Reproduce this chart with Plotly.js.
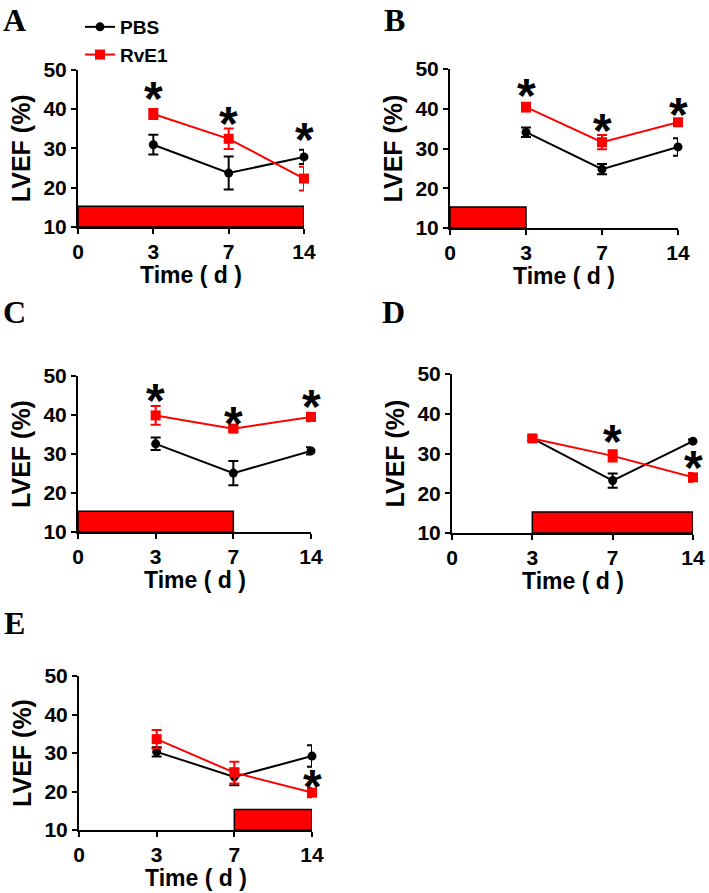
<!DOCTYPE html>
<html><head><meta charset="utf-8">
<script src="https://cdn.plot.ly/plotly-3.0.1.min.js"></script>
<style>html,body{margin:0;padding:0;background:#fff}</style>
</head><body><div id="chart" style="width:709px;height:893px"></div>
<script>
// ---- data ----
const tickDays = [0, 3, 7, 14];
const timeDays = [3, 7, 14];
const panelLabels = ['A', 'B', 'C', 'D', 'E'];

const pbsA = [30.9, 23.7, 27.8];  const pbsErrA = [2.5, 4.2, 1.8];
const rveA = [38.7, 32.4, 22.3];  const rveErrA = [1.3, 2.6, 3.0];
const pbsB = [34.1, 24.8, 30.4];  const pbsErrB = [1.2, 1.3, 2.2];
const rveB = [40.4, 31.6, 36.6];  const rveErrB = [1.1, 1.8, 0.6];
const pbsC = [32.6, 25.1, 30.8];  const pbsErrC = [1.6, 3.1, 0.9];
const rveC = [39.9, 36.5, 39.5];  const rveErrC = [2.4, 0.6, 1.1];
const pbsD = [33.8, 23.2, 33.1];  const pbsErrD = [0.5, 1.8, 0.4];
const rveD = [33.8, 29.4, 24.0];  const rveErrD = [0.5, 1.4, 1.1];
const pbsE = [30.3, 23.8, 29.2];  const pbsErrE = [1.2, 2.2, 2.8];
const rveE = [33.6, 24.9, 19.7];  const rveErrE = [2.4, 2.8, 1.2];

// RvE1 treatment period (days)
const treatA = [0, 14];
const treatB = [0, 3];
const treatC = [0, 7];
const treatD = [3, 14];
const treatE = [7, 14];
const treatLevel = 15.3;

// significance stars (day, y)
const starDaysA = [3, 7, 14];  const starYA = [44.3, 38.0, 34.0];
const starDaysB = [3, 7, 14];  const starYB = [45.0, 36.4, 40.4];
const starDaysC = [3, 7, 14];  const starYC = [45.4, 39.5, 44.1];
const starDaysD = [7, 14];     const starYD = [34.9, 28.2];
const starDaysE = [14];        const starYE = [23.0];

const xTitle = 'Time ( d )';
const yTitle = 'LVEF (%)';

// ---- build ----
const pos = d => tickDays.indexOf(d);
const panels = [
  {pbs: pbsA, pe: pbsErrA, rve: rveA, re: rveErrA, treat: treatA, sd: starDaysA, sy: starYA},
  {pbs: pbsB, pe: pbsErrB, rve: rveB, re: rveErrB, treat: treatB, sd: starDaysB, sy: starYB},
  {pbs: pbsC, pe: pbsErrC, rve: rveC, re: rveErrC, treat: treatC, sd: starDaysC, sy: starYC},
  {pbs: pbsD, pe: pbsErrD, rve: rveD, re: rveErrD, treat: treatD, sd: starDaysD, sy: starYD},
  {pbs: pbsE, pe: pbsErrE, rve: rveE, re: rveErrE, treat: treatE, sd: starDaysE, sy: starYE}
];
// pixel boxes: [left, right, bottom, top]
const W = 709, H = 893;
const boxes = [
  [78, 304, 227, 69.5],
  [450, 678, 228, 69],
  [78, 311, 532, 376],
  [452, 693, 533, 374],
  [79, 312, 830, 676]
];
const letterPos = [[15, 20], [394, 20], [15, 312], [393, 312], [15, 623]];

const FONT = 'Liberation Sans, Arial, sans-serif';
const RED = '#ff0000';
const traces = [], shapes = [], annotations = [];
const layout = {
  width: W, height: H,
  margin: {l: 0, r: 0, t: 0, b: 0},
  paper_bgcolor: '#fff', plot_bgcolor: 'rgba(0,0,0,0)',
  font: {family: FONT, color: '#000'},
  showlegend: true,
  legend: {x: 80 / W, y: 1 - 8 / H, xanchor: 'left', yanchor: 'top',
           font: {size: 19, weight: 'bold', family: FONT}, bgcolor: 'rgba(0,0,0,0)',
           tracegroupgap: 0, itemwidth: 30},
  shapes: shapes, annotations: annotations
};

panels.forEach((p, i) => {
  const n = i === 0 ? '' : String(i + 1);
  const xa = 'x' + n, ya = 'y' + n;
  const b = boxes[i];
  const xs = timeDays.map(pos);
  traces.push({
    x: xs, y: p.pbs, xaxis: xa, yaxis: ya, type: 'scatter', mode: 'lines+markers',
    name: 'PBS', showlegend: i === 0, cliponaxis: false,
    line: {color: '#000', width: 2}, marker: {symbol: 'circle', size: 9, color: '#000'},
    error_y: {type: 'data', array: p.pe, visible: true, color: '#000', thickness: 2, width: 5}
  });
  traces.push({
    x: xs, y: p.rve, xaxis: xa, yaxis: ya, type: 'scatter', mode: 'lines+markers',
    name: 'RvE1', showlegend: i === 0, cliponaxis: false,
    line: {color: RED, width: 2}, marker: {symbol: 'square', size: 10, color: RED},
    error_y: {type: 'data', array: p.re, visible: true, color: RED, thickness: 2, width: 5}
  });
  shapes.push({type: 'rect', xref: xa, yref: ya, layer: 'below',
    x0: pos(p.treat[0]), x1: pos(p.treat[1]), y0: 10, y1: treatLevel,
    fillcolor: RED, line: {color: '#000', width: 1.5}});
  p.sd.forEach((d, k) => annotations.push({
    xref: xa, yref: ya, x: pos(d), y: p.sy[k], text: '*', showarrow: false,
    font: {size: 48, weight: 'bold', family: FONT, color: '#000'}, yshift: -7
  }));
  annotations.push({xref: 'paper', yref: 'paper', x: letterPos[i][0] / W, y: 1 - letterPos[i][1] / H,
    text: panelLabels[i], showarrow: false, xanchor: 'center', yanchor: 'middle',
    font: {size: 32, weight: 'bold', family: 'Liberation Serif, Times New Roman, serif', color: '#000'}});
  annotations.push({xref: xa + ' domain', yref: ya + ' domain', x: 0.5, y: 0,
    text: xTitle, showarrow: false, xanchor: 'center', yanchor: 'middle', yshift: -48,
    font: {size: 23, weight: 'bold', family: FONT, color: '#000'}});

  layout['xaxis' + n] = {
    anchor: ya, domain: [b[0] / W, b[1] / W], range: [0, 3],
    tickvals: tickDays.map(pos), ticktext: tickDays.map(String),
    ticks: 'outside', ticklen: 5, tickwidth: 2, tickcolor: '#000',
    showline: true, linewidth: 2, linecolor: '#000', showgrid: false, zeroline: false,
    tickfont: {size: 21, weight: 'bold', family: FONT},
    fixedrange: true
  };
  layout['yaxis' + n] = {
    anchor: xa, domain: [1 - b[2] / H, 1 - b[3] / H], range: [10, 50],
    tickvals: [10, 20, 30, 40, 50],
    ticks: 'outside', ticklen: 5, tickwidth: 2, tickcolor: '#000',
    showline: true, linewidth: 2, linecolor: '#000', showgrid: false, zeroline: false,
    tickfont: {size: 21, weight: 'bold', family: FONT},
    title: {text: yTitle, font: {size: 25, weight: 'bold', family: FONT}, standoff: 6},
    fixedrange: true
  };
});

Plotly.newPlot('chart', traces, layout, {staticPlot: true, displayModeBar: false});
</script></body></html>
